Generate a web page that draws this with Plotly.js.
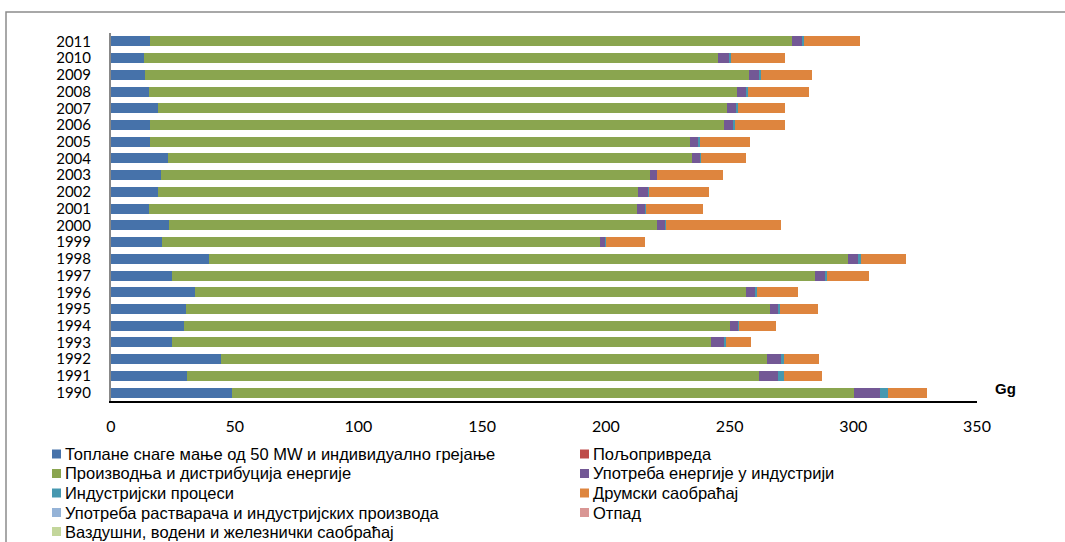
<!DOCTYPE html>
<html>
<head>
<meta charset="utf-8">
<script src="https://cdn.plot.ly/plotly-3.0.1.min.js"></script>
<style>
html,body{margin:0;padding:0;background:#fff;}
#chart{width:1065px;height:542px;}
</style>
</head>
<body>
<div id="chart"></div>
<script>
const years = ['1990','1991','1992','1993','1994','1995','1996','1997','1998','1999','2000','2001','2002','2003','2004','2005','2006','2007','2008','2009','2010','2011'];

const seriesNames = [
  'Топлане снаге мање од 50 MW и индивидуално грејање',
  'Пољопривреда',
  'Производња и дистрибуција енергије',
  'Употреба енергије у индустрији',
  'Индустријски процеси',
  'Друмски саобраћај',
  'Употреба растварача и индустријских производа',
  'Отпад',
  'Ваздушни, водени и железнички саобраћај'
];

const heating    = [49.0,30.7,44.5,24.6,29.5,30.3,33.9,24.8,39.6,20.7,23.4,15.3,19.1,20.3,23.0,15.7,15.7,18.8,15.3,13.7,13.3,15.9];
const agriculture= [0,0,0,0,0,0,0,0,0,0,0,0,0,0,0,0,0,0,0,0,0,0];
const energyProd = [251.1,231.2,220.6,218.0,220.7,236.0,222.6,259.7,258.3,176.8,197.3,197.3,193.9,197.6,212.0,218.3,232.1,230.3,237.8,244.3,232.0,259.3];
const industryEn = [10.5,7.5,5.7,5.3,3.2,3.4,3.6,3.9,4.2,2.1,3.1,3.1,3.9,2.6,2.9,3.2,3.4,3.5,3.7,4.0,4.3,3.9];
const industProc = [3.3,2.4,1.3,0.8,0.4,0.8,1.1,0.8,1.1,0.4,0.7,0.6,0.4,0.3,0.6,0.7,0.8,0.8,0.8,0.7,0.8,0.8];
const roadTraffic= [15.9,15.4,13.9,9.8,15.1,15.1,16.3,17.2,18.0,15.7,46.1,22.8,24.2,26.6,18.3,20.2,20.2,19.1,24.5,20.7,21.8,23.0];
const solvents   = [0,0,0,0,0,0,0,0,0,0,0,0,0,0,0,0,0,0,0,0,0,0];
const waste      = [0,0,0,0,0,0,0,0,0,0,0,0,0,0,0,0,0,0,0,0,0,0];
const otherTrans = [0,0,0,0,0,0,0,0,0,0,0,0,0,0,0,0,0,0,0,0,0,0];

const xTicks = [0,50,100,150,200,250,300,350];
const unitLabel = 'Gg';

const allValues = [heating, agriculture, energyProd, industryEn, industProc, roadTraffic, solvents, waste, otherTrans];
const colors = ['#4672AA','#BE4B48','#8AA54F','#735895','#4698B0','#DE853E','#95B3D7','#D99694','#C3D69B'];

const traces = allValues.map((vals, i) => ({
  type: 'bar',
  orientation: 'h',
  name: seriesNames[i],
  y: years,
  x: vals,
  marker: {color: colors[i], line: {width: 0}},
  hoverinfo: 'x+y+name',
  showlegend: false
}));

const L = 111, R = 88, T = 33, B = 141;
const pw = 1065 - L - R, ph = 542 - T - B;
const px2x = p => (p - L) / pw;
const py2y = p => (ph - (p - T)) / ph;

// custom two-column legend (same look as the reference)
const legColX = [52, 580];
const legRowY = [454, 473.5, 493, 512.5, 531.5];
const legShapes = [], legAnn = [];
seriesNames.forEach((name, i) => {
  const col = i % 2, row = Math.floor(i / 2);
  const mx = legColX[col], my = legRowY[row];
  legShapes.push({
    type: 'rect', xref: 'paper', yref: 'paper',
    x0: px2x(mx), x1: px2x(mx + 9), y0: py2y(my + 4.5), y1: py2y(my - 4.5),
    line: {width: 0}, fillcolor: colors[i]
  });
  legAnn.push({
    xref: 'paper', yref: 'paper', x: px2x(mx + 11), y: py2y(my),
    xanchor: 'left', yanchor: 'middle', showarrow: false, text: name,
    font: {family: 'Liberation Sans, Arial, sans-serif', size: 16.5, color: '#000'}
  });
});

const layout = {
  width: 1065, height: 542,
  margin: {l: L, r: R, t: T, b: B, pad: 0},
  paper_bgcolor: '#ffffff', plot_bgcolor: '#ffffff',
  barmode: 'stack',
  bargap: 0.4,
  showlegend: false,
  font: {family: 'Liberation Sans, Arial, sans-serif', color: '#000'},
  xaxis: {
    range: [0, 350],
    tickvals: xTicks,
    ticktext: xTicks.map(String),
    showgrid: false, zeroline: false,
    showline: true, linecolor: '#000', linewidth: 2,
    ticks: '', ticklabelstandoff: 10,
    tickfont: {family: 'Lato, sans-serif', size: 16, color: '#000'},
    fixedrange: true
  },
  yaxis: {
    type: 'category',
    categoryorder: 'array', categoryarray: years,
    tickmode: 'array', tickvals: years, ticktext: years,
    range: [-0.5, 21.5],
    showgrid: false, zeroline: false,
    showline: true, linecolor: '#888', linewidth: 2,
    ticks: '', ticklabelstandoff: 15,
    tickfont: {family: 'Lato, sans-serif', size: 15, color: '#000'},
    fixedrange: true
  },
  annotations: [{
    xref: 'paper', yref: 'paper',
    x: px2x(1005), y: py2y(388),
    xanchor: 'center', yanchor: 'middle',
    text: '<b>' + unitLabel + '</b>', showarrow: false,
    font: {family: 'Liberation Sans, Arial, sans-serif', size: 15, color: '#000'}
  }].concat(legAnn),
  shapes: [{
    type: 'rect', xref: 'paper', yref: 'paper',
    x0: px2x(6), x1: px2x(1070),
    y0: py2y(560), y1: py2y(12),
    line: {color: '#8c8c8c', width: 1.5}, fillcolor: 'rgba(0,0,0,0)', layer: 'below'
  }].concat(legShapes)
};

Plotly.newPlot('chart', traces, layout, {displayModeBar: false, staticPlot: true});
</script>
</body>
</html>
